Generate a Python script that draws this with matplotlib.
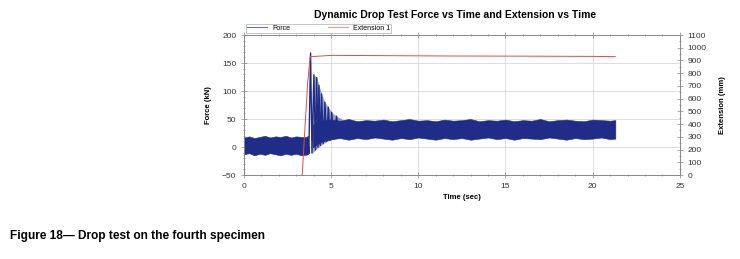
import numpy as np
import matplotlib.pyplot as plt
from matplotlib.ticker import MultipleLocator

plt.rcParams['font.family'] = ['Liberation Sans', 'DejaVu Sans']

# 冲击前的力信号包络 (kN)
t_pre = [0.0, 0.3, 0.6, 0.9, 1.2, 1.5, 1.8, 2.1, 2.4, 2.7, 3.0, 3.3, 3.68]
f_pre_hi = [17, 19, 16, 18, 20, 17, 19, 18, 20, 17, 19, 18, 18]
f_pre_lo = [-13, -11, -15, -12, -14, -11, -13, -15, -12, -14, -12, -15, -13]

# 冲击瞬间的振荡峰谷 (kN)
t_imp = [3.68, 3.72, 3.82, 3.9, 4.01, 4.1, 4.17, 4.24, 4.3, 4.38, 4.45, 4.55,
         4.64, 4.74, 4.84, 4.94, 5.03, 5.15, 5.31, 5.45]
f_imp = [18, -12, 168, -11, 129, -5, 124, 0, 110, 3, 95, 6,
         80, 10, 71, 12, 62, 15, 55, 20]
# 振荡区的上下包络 (kN)
t_osc = [3.9, 4.01, 4.17, 4.3, 4.45, 4.64, 4.84, 5.03, 5.31, 5.6]
f_osc_hi = [60, 129, 124, 110, 95, 80, 71, 62, 55, 50]
f_osc_lo = [-11, -8, -3, 0, 4, 8, 11, 13, 15, 16]

# 冲击后的力信号包络 (kN)
t_post = [3.95, 4.2, 4.5, 5.0, 5.5, 6.0, 6.5, 7.0, 7.5, 8.0, 8.5, 9.0, 9.5,
          10.0, 10.5, 11.0, 11.5, 12.0, 12.5, 13.0, 13.5, 14.0, 14.5, 15.0,
          15.5, 16.0, 16.5, 17.0, 17.5, 18.0, 18.5, 19.0, 19.5, 20.0, 20.5,
          21.0, 21.3]
f_post_hi = [40, 45, 48, 49, 47, 50, 46, 48, 47, 49, 46, 48, 50, 47, 48, 46,
             49, 47, 48, 50, 46, 48, 47, 49, 46, 48, 47, 50, 46, 48, 49, 47,
             46, 49, 48, 47, 48]
f_post_lo = [0, 5, 10, 14, 16, 13, 16, 14, 17, 15, 13, 16, 14, 17, 15, 13,
             16, 14, 16, 13, 15, 17, 14, 16, 13, 16, 15, 14, 17, 15, 13, 16,
             14, 15, 17, 14, 15]

# 伸长量 (mm)
t_ext = [3.2, 3.35, 3.5, 3.65, 3.8, 3.85, 5, 8, 12, 16, 20, 21.3]
ext = [-120, 20, 380, 720, 935, 930, 940, 938, 935, 934, 932, 930]

navy = '#1f2c88'
red = '#e8484a'

fig = plt.figure(figsize=(7.4, 2.59), dpi=100)
ax = fig.add_axes([0.3297, 0.3243, 0.589, 0.5405])
ax2 = ax.twinx()

ax.fill_between(t_pre, f_pre_lo, f_pre_hi, color=navy, lw=0.4)
ax.fill_between(t_osc, f_osc_lo, f_osc_hi, color=navy, alpha=0.45, lw=0)
ax.fill_between(t_post, f_post_lo, f_post_hi, color=navy, lw=0.4)
ax.plot(t_imp, f_imp, color=navy, lw=1.0)
ax2.plot(t_ext, ext, color=red, lw=0.7)

ax.set_xlim(0, 25)
ax.set_ylim(-50, 200)
ax2.set_ylim(0, 1100)
ax.xaxis.set_major_locator(MultipleLocator(5))
ax.xaxis.set_minor_locator(MultipleLocator(1))
ax.yaxis.set_major_locator(MultipleLocator(50))
ax.yaxis.set_minor_locator(MultipleLocator(10))
ax2.yaxis.set_major_locator(MultipleLocator(100))
ax2.yaxis.set_minor_locator(MultipleLocator(50))

ax.grid(True, which='major', color='#d8d8d8', lw=0.6)
ax.set_axisbelow(True)

for a in (ax, ax2):
    for s in a.spines.values():
        s.set_color('#888888')
        s.set_linewidth(0.6)
    a.tick_params(which='both', direction='inout', colors='#888888',
                  labelcolor='#333333', labelsize=6, width=0.5)
    a.tick_params(which='major', length=4)
    a.tick_params(which='minor', length=2)
ax.tick_params(axis='x', which='both', top=True)

ax.set_xlabel('Time (sec)', fontsize=5.5, fontweight='bold', labelpad=3)
ax.set_ylabel('Force (kN)', fontsize=5.5, fontweight='bold', labelpad=7)
ax2.set_ylabel('Extension (mm)', fontsize=5.5, fontweight='bold', labelpad=9)

ax.set_title('Dynamic Drop Test Force vs Time and Extension vs Time',
             fontsize=7.5, fontweight='bold', pad=12, x=0.485)

h1, = ax.plot([], [], color='#6c74b0', lw=0.8, label='Force')
h2, = ax.plot([], [], color='#f09a9a', lw=0.8, label='Extension 1')
leg = ax.legend(handles=[h1, h2], loc='lower left', bbox_to_anchor=(0, 1.0),
                ncol=2, fontsize=5, frameon=True, fancybox=False,
                handlelength=2.8, columnspacing=5.5, borderpad=0.15,
                handletextpad=0.8, borderaxespad=0.3)
leg.get_frame().set_edgecolor('#999999')
leg.get_frame().set_linewidth(0.5)

fig.text(0.014, 0.088, 'Figure 18\u2014 Drop test on the fourth specimen',
         fontsize=8.6, fontweight='bold', ha='left', va='center')

fig.savefig('out.png', dpi=100)
